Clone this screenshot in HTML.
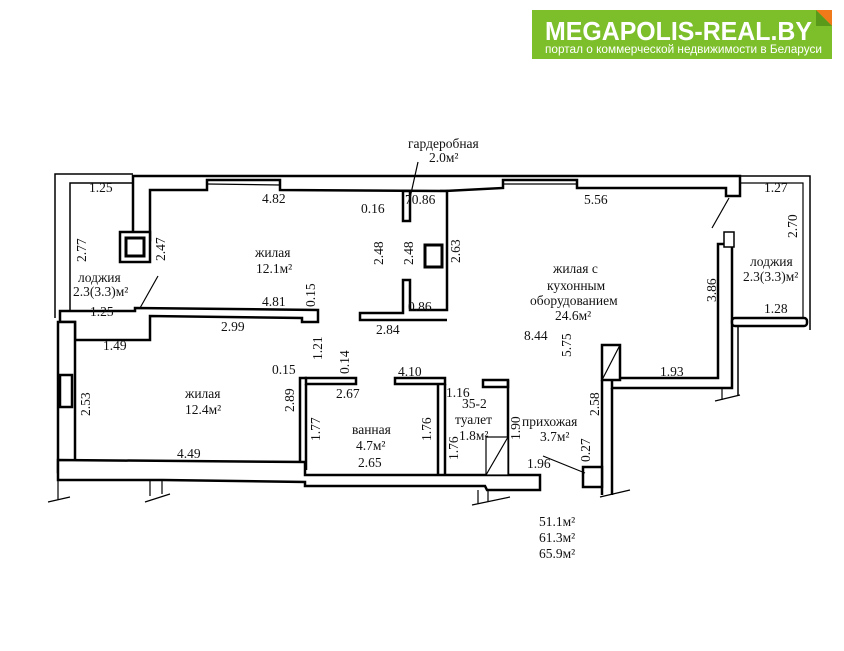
<!DOCTYPE html>
<html><head><meta charset="utf-8"><style>
html,body{margin:0;padding:0;background:#fff;width:844px;height:651px;overflow:hidden}
svg{display:block}
text{font-family:"Liberation Serif",serif;font-size:13.5px;fill:#111}
.logo{font-family:"Liberation Sans",sans-serif}
</style></head><body>
<svg width="844" height="651" viewBox="0 0 844 651" xmlns="http://www.w3.org/2000/svg">
<rect x="532" y="10" width="300" height="49" fill="#7cbf2b"/>
<polygon points="816,10 832,10 832,26" fill="#f07a1a"/>
<polygon points="816,10 832,26 816,26" fill="#5a9a1a"/>
<text x="545" y="40" class="logo" textLength="267" lengthAdjust="spacingAndGlyphs" style="font-size:26px;font-weight:bold;fill:#fff">MEGAPOLIS-REAL.BY</text>
<text x="545" y="53" class="logo" textLength="277" lengthAdjust="spacingAndGlyphs" style="font-size:11.5px;fill:#fff">портал о коммерческой недвижимости в Беларуси</text>

<g fill="#fff" stroke="#000" stroke-width="2.5">
<polyline points="133,174 55,174 55,318" fill="none" stroke-width="1.5"/>
<polyline points="133,183 70,183 70,312" fill="none" stroke-width="1.5"/>
<polygon points="133,176 740,176 740,196 726,196 726,188 577,188 577,180 503,180 503,188 445,191 280,190 280,180 207,180 207,190 150,190 150,240 133,240"/>
<line x1="207" y1="184" x2="280" y2="185" stroke-width="1.2"/>
<line x1="503" y1="184" x2="577" y2="184" stroke-width="1.2"/>
<rect x="120" y="232" width="30" height="30"/>
<rect x="126" y="238" width="18" height="18" stroke-width="3"/>
<polygon points="135,308 318,310 318,322 302,322 302,318 150,316 150,340 75,340 75,322 60,322 60,311 135,311"/>
<rect x="58" y="322" width="17" height="150"/>
<rect x="60" y="375" width="12" height="32"/>
<polyline points="58,472 58,500" fill="none" stroke-width="1.2"/>
<polygon points="58,460 305,462 305,475 540,475 540,490 487,490 485,486 305,486 305,482 163,480 58,480"/>
<polyline points="300,462 300,378 307,378" fill="none"/>
<rect x="306" y="378" width="50" height="6"/>
<rect x="395" y="378" width="50" height="6"/>
<line x1="306" y1="384" x2="306" y2="470"/>
<line x1="438" y1="384" x2="438" y2="475"/>
<line x1="445" y1="384" x2="445" y2="475"/>
<rect x="483" y="380" width="25" height="7"/>
<line x1="508" y1="380" x2="508" y2="475"/>
<rect x="486" y="437" width="22" height="38" stroke-width="1.2"/>
<line x1="486" y1="475" x2="508" y2="437" stroke-width="1.2"/>
<rect x="403" y="191" width="7" height="30"/>
<polyline points="440,191 447,191 447,310 410,310 410,280 403,280 403,313 360,313 360,320 447,320" />
<rect x="425" y="245" width="17" height="22" stroke-width="3"/>
<polygon points="718,244 732,244 732,388 612,388 612,378 718,378"/>
<rect x="724" y="232" width="10" height="15" stroke-width="1.5"/>
<polyline points="740,176 810,176 810,330" fill="none" stroke-width="1.5"/>
<polyline points="740,183 803,183 803,318 738,318" fill="none" stroke-width="1.2"/>
<rect x="732" y="318" width="75" height="8" rx="3"/>
<line x1="738" y1="326" x2="738" y2="396" stroke-width="1.5"/>
<rect x="602" y="345" width="18" height="35"/>
<line x1="602" y1="380" x2="620" y2="345" stroke-width="1.2"/>
<line x1="602" y1="380" x2="602" y2="495"/>
<line x1="612" y1="388" x2="612" y2="495"/>
<rect x="583" y="467" width="19" height="20"/>
</g>
<g stroke="#000" stroke-width="1.2" fill="none">
<line x1="140" y1="308" x2="158" y2="276"/>
<line x1="410" y1="198" x2="418" y2="162"/>
<line x1="712" y1="228" x2="729" y2="198"/>
<line x1="543" y1="456" x2="585" y2="473"/>
<line x1="48" y1="502" x2="70" y2="497"/>
<line x1="145" y1="502" x2="170" y2="494"/>
<line x1="150" y1="480" x2="150" y2="496"/><line x1="162" y1="480" x2="162" y2="494"/>
<line x1="478" y1="490" x2="478" y2="504"/><line x1="488" y1="490" x2="488" y2="502"/>
<line x1="472" y1="505" x2="510" y2="497"/>
<line x1="600" y1="497" x2="630" y2="490"/>
<line x1="722" y1="388" x2="722" y2="400"/><line x1="715" y1="401" x2="740" y2="395"/>
</g>
<g>
<text x="89" y="192">1.25</text>
<text x="86" y="262" transform="rotate(-90 86 262)">2.77</text>
<text x="165" y="261" transform="rotate(-90 165 261)">2.47</text>
<text x="78" y="282">лоджия</text>
<text x="73" y="296">2.3(3.3)м²</text>
<text x="90" y="316">1.25</text>
<text x="262" y="203">4.82</text>
<text x="255" y="257">жилая</text>
<text x="256" y="273">12.1м²</text>
<text x="262" y="306">4.81</text>
<text x="315" y="307" transform="rotate(-90 315 307)">0.15</text>
<text x="221" y="331">2.99</text>
<text x="103" y="350">1.49</text>
<text x="376" y="334">2.84</text>
<text x="361" y="213">0.16</text>
<text x="405" y="204">70.86</text>
<text x="408" y="148">гардеробная</text>
<text x="429" y="162">2.0м²</text>
<text x="383" y="265" transform="rotate(-90 383 265)">2.48</text>
<text x="413" y="265" transform="rotate(-90 413 265)">2.48</text>
<text x="460" y="263" transform="rotate(-90 460 263)">2.63</text>
<text x="408" y="311">0.86</text>
<text x="584" y="204">5.56</text>
<text x="553" y="273">жилая с</text>
<text x="547" y="290">кухонным</text>
<text x="530" y="305">оборудованием</text>
<text x="555" y="320">24.6м²</text>
<text x="524" y="340">8.44</text>
<text x="571" y="357" transform="rotate(-90 571 357)">5.75</text>
<text x="764" y="192">1.27</text>
<text x="797" y="238" transform="rotate(-90 797 238)">2.70</text>
<text x="750" y="266">лоджия</text>
<text x="743" y="281">2.3(3.3)м²</text>
<text x="716" y="302" transform="rotate(-90 716 302)">3.86</text>
<text x="764" y="313">1.28</text>
<text x="660" y="376">1.93</text>
<text x="272" y="374">0.15</text>
<text x="322" y="360" transform="rotate(-90 322 360)">1.21</text>
<text x="349" y="374" transform="rotate(-90 349 374)">0.14</text>
<text x="398" y="376">4.10</text>
<text x="336" y="398">2.67</text>
<text x="294" y="412" transform="rotate(-90 294 412)">2.89</text>
<text x="185" y="398">жилая</text>
<text x="185" y="414">12.4м²</text>
<text x="90" y="416" transform="rotate(-90 90 416)">2.53</text>
<text x="177" y="458">4.49</text>
<text x="320" y="441" transform="rotate(-90 320 441)">1.77</text>
<text x="352" y="434">ванная</text>
<text x="356" y="450">4.7м²</text>
<text x="358" y="467">2.65</text>
<text x="431" y="441" transform="rotate(-90 431 441)">1.76</text>
<text x="446" y="397">1.16</text>
<text x="462" y="408">35-2</text>
<text x="455" y="424">туалет</text>
<text x="459" y="440">1.8м²</text>
<text x="458" y="460" transform="rotate(-90 458 460)">1.76</text>
<text x="520" y="440" transform="rotate(-90 520 440)">1.90</text>
<text x="522" y="426">прихожая</text>
<text x="540" y="441">3.7м²</text>
<text x="599" y="416" transform="rotate(-90 599 416)">2.58</text>
<text x="527" y="468">1.96</text>
<text x="590" y="462" transform="rotate(-90 590 462)">0.27</text>
<text x="539" y="526">51.1м²</text>
<text x="539" y="542">61.3м²</text>
<text x="539" y="558">65.9м²</text>
</g>
</svg>
</body></html>
